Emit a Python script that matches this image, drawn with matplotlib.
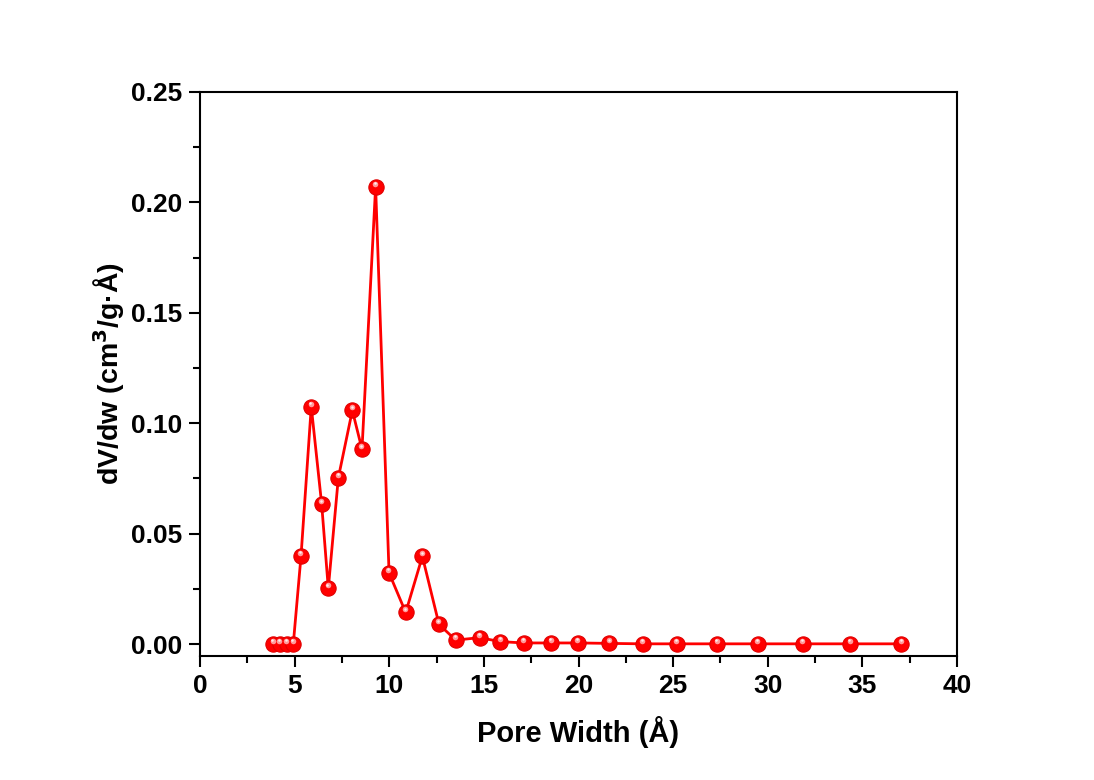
import matplotlib
matplotlib.use("Agg")
import matplotlib.pyplot as plt
from matplotlib.ticker import MultipleLocator, FormatStrFormatter
from matplotlib.transforms import offset_copy

pore_width = [3.87, 4.23, 4.58, 4.93, 5.34, 5.88, 6.43, 6.78, 7.31, 8.05, 8.56, 9.28,
              9.99, 10.87, 11.75, 12.63, 13.51, 14.78, 15.87, 17.10, 18.56, 19.97,
              21.63, 23.39, 25.20, 27.33, 29.48, 31.85, 34.36, 37.06]
dvdw = [0.0, 0.0, 0.0, 0.0, 0.040, 0.1075, 0.0633, 0.0252, 0.0753, 0.1058, 0.0882, 0.2071,
        0.0322, 0.0143, 0.0397, 0.0089, 0.0018, 0.0029, 0.0011, 0.0005, 0.0005, 0.0005,
        0.0003, 0.0001, 0.0001, 0.0001, 0.0001, 0.0001, 0.0001, 0.0001]

plt.rcParams['font.family'] = ['Liberation Sans', 'DejaVu Sans']
plt.rcParams['font.weight'] = 'bold'

fig = plt.figure(figsize=(10.94, 7.80), dpi=100)
ax = fig.add_axes([0.1828, 0.159, 0.692, 0.7231])

ax.plot(pore_width, dvdw, color='#ff0000', lw=2.0, marker='o', ms=11,
        markerfacecolor='#ff0000', markeredgecolor='#e00000', markeredgewidth=0.8, zorder=3)
hl = offset_copy(ax.transData, fig=fig, x=-0.5, y=2.2, units='points')
ax.plot(pore_width, dvdw, ls='none', marker='o', ms=4, markerfacecolor='#ff9a9a',
        markeredgecolor='none', transform=hl, zorder=4)
hl2 = offset_copy(ax.transData, fig=fig, x=-0.6, y=2.6, units='points')
ax.plot(pore_width, dvdw, ls='none', marker='o', ms=1.8, markerfacecolor='#ffeeee',
        markeredgecolor='none', transform=hl2, zorder=5)

ax.set_xlim(0, 40)
ax.set_ylim(-0.0054, 0.25)
ax.xaxis.set_major_locator(MultipleLocator(5))
ax.xaxis.set_minor_locator(MultipleLocator(2.5))
ax.yaxis.set_major_locator(MultipleLocator(0.05))
ax.yaxis.set_minor_locator(MultipleLocator(0.025))
ax.yaxis.set_major_formatter(FormatStrFormatter('%.2f'))

ax.tick_params(which='major', direction='out', length=8, width=1.5, labelsize=19,
               top=False, right=False, pad=5)
ax.tick_params(which='minor', direction='out', length=5, width=1.5, top=False, right=False)
for lbl in ax.get_xticklabels() + ax.get_yticklabels():
    lbl.set_fontweight('bold')
for s in ax.spines.values():
    s.set_linewidth(1.5)

ax.set_xlabel('Pore Width (Å)', fontsize=21, fontweight='bold', labelpad=13)
ax.set_ylabel('dV/dw (cm$^{\\mathbf{3}}$/g·Å)', fontsize=20.5, fontweight='bold', labelpad=3)

fig.savefig('out.png', dpi=100)
